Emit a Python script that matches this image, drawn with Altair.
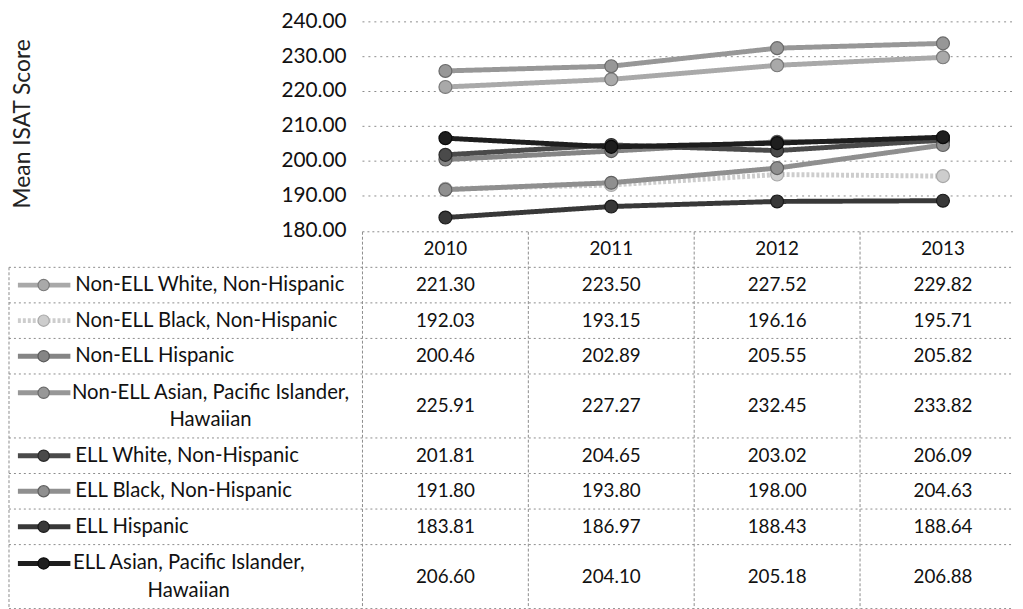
import altair as alt
import pandas as pd

# ---------------- data ----------------
years = ["2010", "2011", "2012", "2013"]
series = [
    "Non-ELL White, Non-Hispanic",
    "Non-ELL Black, Non-Hispanic",
    "Non-ELL Hispanic",
    "Non-ELL Asian, Pacific Islander, Hawaiian",
    "ELL White, Non-Hispanic",
    "ELL Black, Non-Hispanic",
    "ELL Hispanic",
    "ELL Asian, Pacific Islander, Hawaiian",
]
label_lines = [
    ["Non-ELL White, Non-Hispanic"],
    ["Non-ELL Black, Non-Hispanic"],
    ["Non-ELL Hispanic"],
    ["Non-ELL Asian, Pacific Islander,", "Hawaiian"],
    ["ELL White, Non-Hispanic"],
    ["ELL Black, Non-Hispanic"],
    ["ELL Hispanic"],
    ["ELL Asian, Pacific Islander,", "Hawaiian"],
]
non_ell_white = [221.30, 223.50, 227.52, 229.82]
non_ell_black = [192.03, 193.15, 196.16, 195.71]
non_ell_hispanic = [200.46, 202.89, 205.55, 205.82]
non_ell_asian = [225.91, 227.27, 232.45, 233.82]
ell_white = [201.81, 204.65, 203.02, 206.09]
ell_black = [191.80, 193.80, 198.00, 204.63]
ell_hispanic = [183.81, 186.97, 188.43, 188.64]
ell_asian = [206.60, 204.10, 205.18, 206.88]
series_values = [non_ell_white, non_ell_black, non_ell_hispanic, non_ell_asian,
                 ell_white, ell_black, ell_hispanic, ell_asian]
y_ticks = [180, 190, 200, 210, 220, 230, 240]
y_tick_labels = ["180.00", "190.00", "200.00", "210.00", "220.00", "230.00", "240.00"]
y_title = "Mean ISAT Score"

# ---------------- styles / layout ----------------
line_colors = ["#a9a9a9", "#cdcdcd", "#858585", "#979797", "#4a4a4a", "#8f8f8f", "#383838", "#1e1e1e"]
edge_colors = ["#7a7a7a", "#a8a8a8", "#5a5a5a", "#6a6a6a", "#2a2a2a", "#606060", "#1a1a1a", "#0a0a0a"]
row_units = [1, 1, 1, 1.8, 1, 1, 1, 1.8]
label_center_px = {3: 203.5, 7: 181.5}   # centre of two-line labels (chart px)
FONT = "Lato"
LAB_SIZE = 20.5
W, H = 1015, 601
PLOT_LEFT = 357.0
COL_W = 167.5
ROW_H = 35.9
TABLE_TOP = 222.0
GRID = "#8c8c8c"


def cx(px):
    return (px - PLOT_LEFT) / COL_W


x_dom = [cx(0), cx(W)]
xs = alt.Scale(domain=x_dom, range=[0, W], nice=False, zero=False)
ys_score = alt.Scale(domain=[180, 240], range=[221, 10], nice=False, zero=False)
total_units = 1 + sum(row_units)
ys_row = alt.Scale(domain=[0, total_units], range=[TABLE_TOP, TABLE_TOP + total_units * ROW_H],
                   nice=False, zero=False)

# ---------------- tables ----------------
long_rows = []
for s, vals in zip(series, series_values):
    for i, (yr, v) in enumerate(zip(years, vals)):
        long_rows.append({"series": s, "year": yr, "yi": i + 0.5, "value": v})
long_df = pd.DataFrame(long_rows)

row_rows = []
top = 1.0
for k, (s, lines, u) in enumerate(zip(series, label_lines, row_units)):
    row_rows.append({
        "series": s, "k": k, "top": top, "bottom": top + u, "mid": top + u / 2,
        "first": top + (0.53 if u > 1 else 0.5), "lines": lines, "nlines": len(lines),
        "lab_x": cx(67) if len(lines) == 1 else cx(label_center_px[k]),
        "sym_a": cx(9), "sym_b": cx(62), "sym_m": cx(35),
    })
    top += u
row_df = pd.DataFrame(row_rows)

cell_df = long_df.merge(row_df[["series", "mid"]], on="series")
cell_df["txt"] = cell_df["value"].map(lambda v: f"{v:.2f}")

header_df = pd.DataFrame({"year": years, "yi": [i + 0.5 for i in range(len(years))], "r": 0.5})

# borders
hlines = [{"xa": 0.0, "xb": x_dom[1], "r": 0.0}]
for b in [1.0] + list(row_df["bottom"]):
    hlines.append({"xa": x_dom[0], "xb": x_dom[1], "r": b})
hline_df = pd.DataFrame(hlines)
vlines = [{"x": x_dom[0], "ra": 1.0, "rb": total_units}]
for i in range(len(years)):
    vlines.append({"x": float(i), "ra": 0.0, "rb": total_units})
vline_df = pd.DataFrame(vlines)

grid_df = pd.DataFrame({"tick": y_ticks[1:], "xa": 0.0, "xb": x_dom[1]})
tick_df = pd.DataFrame({"tick": y_ticks, "lab": y_tick_labels, "x0": 0.0})

color_scale = alt.Scale(domain=series, range=line_colors)
edge_scale = alt.Scale(domain=series, range=edge_colors)
dash_scale = alt.Scale(domain=series, range=[[1, 0], [3, 2], [1, 0], [1, 0], [1, 0], [1, 0], [1, 0], [1, 0]])

X = lambda f: alt.X(f, scale=xs, axis=None)
YS = lambda f: alt.Y(f, scale=ys_score, axis=None)
YR = lambda f: alt.Y(f, scale=ys_row, axis=None)

grid = alt.Chart(grid_df).mark_rule(color=GRID, strokeDash=[2, 4], strokeWidth=1).encode(
    x=X("xa:Q"), x2="xb:Q", y=YS("tick:Q"))

ticks = alt.Chart(tick_df).mark_text(align="right", baseline="middle", dx=-16, font=FONT,
                                     fontSize=21, color="#111").encode(
    x=X("x0:Q"), y=YS("tick:Q"), text="lab:N")

title = alt.Chart(pd.DataFrame({"t": [y_title]})).mark_text(
    angle=270, align="center", baseline="middle", font=FONT, fontSize=23, color="#222").encode(
    x=alt.value(14), y=alt.value(113), text="t:N")

hl = alt.Chart(hline_df).mark_rule(color=GRID, strokeDash=[2, 3], strokeWidth=1).encode(
    x=X("xa:Q"), x2="xb:Q", y=YR("r:Q"))
vl = alt.Chart(vline_df).mark_rule(color=GRID, strokeDash=[3, 2], strokeWidth=1).encode(
    x=X("x:Q"), y=YR("ra:Q"), y2="rb:Q")

header = alt.Chart(header_df).mark_text(baseline="middle", font=FONT, fontSize=19, color="#111").encode(
    x=X("yi:Q"), y=YR("r:Q"), text="year:N")

cells = alt.Chart(cell_df).mark_text(baseline="middle", font=FONT, fontSize=19, color="#111").encode(
    x=X("yi:Q"), y=YR("mid:Q"), text="txt:N")

lab1 = alt.Chart(row_df[row_df["nlines"] == 1]).mark_text(
    align="left", baseline="middle", font=FONT, fontSize=LAB_SIZE, color="#111").encode(
    x=X("lab_x:Q"), y=YR("mid:Q"), text="lines")
lab2 = alt.Chart(row_df[row_df["nlines"] == 2]).mark_text(
    align="center", baseline="middle", font=FONT, fontSize=LAB_SIZE, lineHeight=28, color="#111").encode(
    x=X("lab_x:Q"), y=YR("first:Q"), text="lines")

sym_line = alt.Chart(row_df).mark_rule(strokeWidth=5).encode(
    x=X("sym_a:Q"), x2="sym_b:Q", y=YR("first:Q"),
    color=alt.Color("series:N", scale=color_scale, legend=None),
    strokeDash=alt.StrokeDash("series:N", scale=dash_scale, legend=None))
sym_pt = alt.Chart(row_df).mark_point(filled=True, shape="circle", size=130, strokeWidth=1.2, opacity=1).encode(
    x=X("sym_m:Q"), y=YR("first:Q"),
    fill=alt.Fill("series:N", scale=color_scale, legend=None),
    stroke=alt.Stroke("series:N", scale=edge_scale, legend=None))

lines = alt.Chart(long_df).mark_line(strokeWidth=5).encode(
    x=X("yi:Q"), y=YS("value:Q"),
    color=alt.Color("series:N", scale=color_scale, legend=None),
    strokeDash=alt.StrokeDash("series:N", scale=dash_scale, legend=None),
    detail="series:N", order=alt.Order("yi:Q"))
pts = alt.Chart(long_df).mark_point(filled=True, shape="circle", size=170, strokeWidth=1.2, opacity=1).encode(
    x=X("yi:Q"), y=YS("value:Q"),
    fill=alt.Fill("series:N", scale=color_scale, legend=None),
    stroke=alt.Stroke("series:N", scale=edge_scale, legend=None))

chart = alt.layer(
    grid, ticks, title, hl, vl, header, cells, lab1, lab2, sym_line, sym_pt, lines, pts
).resolve_scale(y="independent").properties(
    width=W, height=H, padding=0, background="white"
).configure_view(stroke=None)

chart.save("out.html", embed_options={"renderer": "svg", "actions": False})
